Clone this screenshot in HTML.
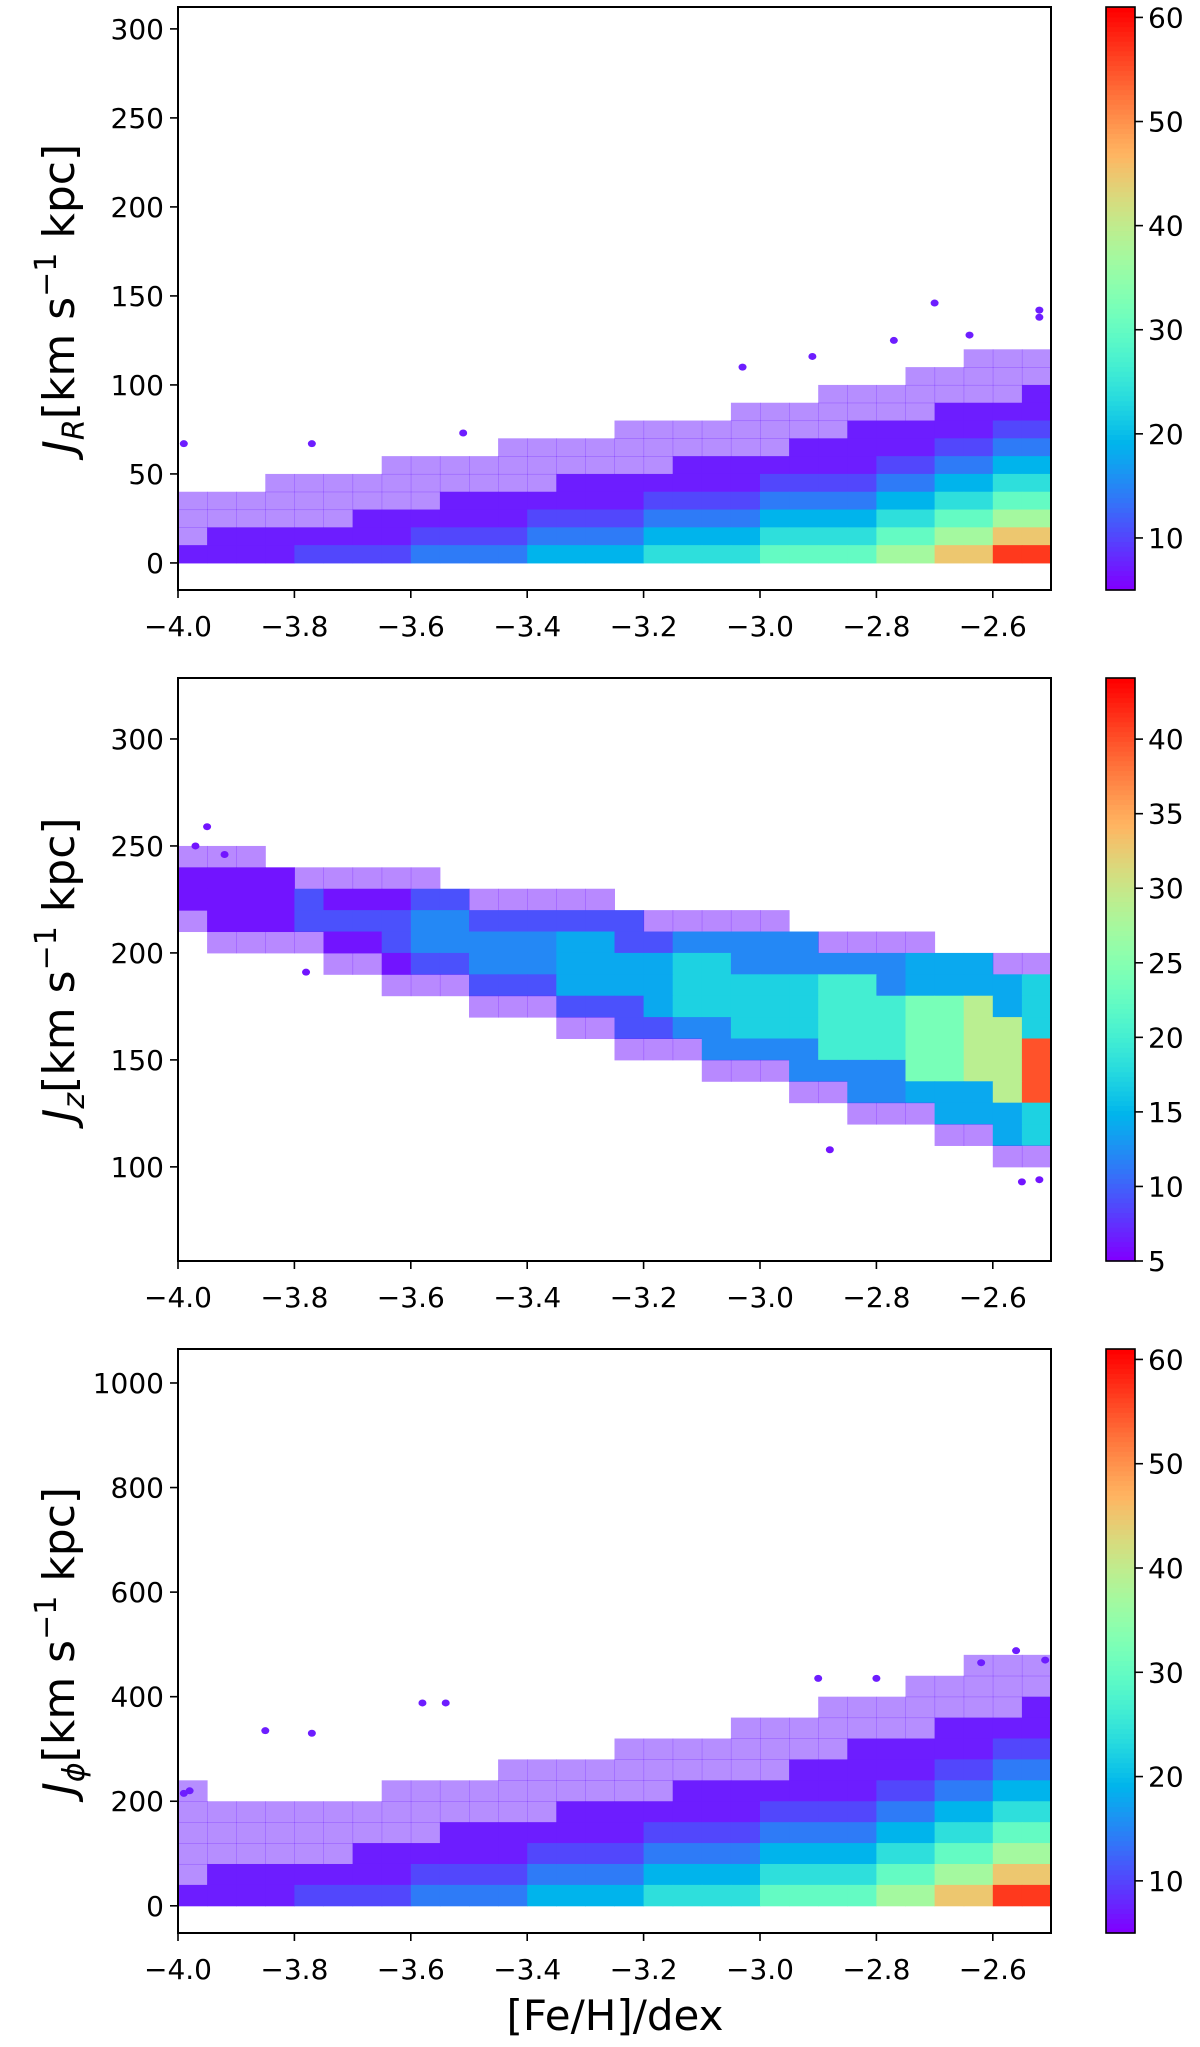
<!DOCTYPE html>
<html><head><meta charset="utf-8">
<style>
html,body{margin:0;padding:0;background:#fff;}
svg{display:block;font-family:"DejaVu Sans","Liberation Sans",sans-serif;}
</style></head>
<body>
<svg id="fig" width="1200" height="2047" viewBox="0 0 1200 2047" xmlns="http://www.w3.org/2000/svg"></svg>
<script>
// ---------- data ----------
const xTicks = [-4.0, -3.8, -3.6, -3.4, -3.2, -3.0, -2.8, -2.6];
const xTickLabels = ["−4.0","−3.8","−3.6","−3.4","−3.2","−3.0","−2.8","−2.6"];

// Panel 1: J_R  (rows top -> bottom, 10 units each from 0, cols 0.05 dex from -4.0)
const p1Levels = [0,7,10,14,19,24,30,37,45,57];
const p1Ticks = [0,50,100,150,200,250,300];
const p1CbTicks = [10,20,30,40,50,60];
const p1Grid = [
"000000000000000000000000000000",
"000000000000000000000000000000",
"000000000000000000000000000000",
"000000000000000000000000000sss",
"0000000000000000000000000sssss",
"0000000000000000000000sssssss1",
"0000000000000000000sssssss1111",
"000000000000000ssssssss1111122",
"00000000000ssssssssss111112233",
"0000000ssssssssss1111111223344",
"000ssssssssss11111112222334455",
"sssssssss111111122223333445566",
"ssssss111111222233334444556677",
"s11111112222333344445555667788",
"111122223333444455556666778899"
];
const p1Outliers = [[-2.70,146],[-2.52,142],[-2.52,138],[-3.99,67],[-2.64,128],[-2.77,125],[-2.91,116],[-3.03,110],[-3.51,73],[-3.77,67]];

// Panel 2: J_z  (rows top -> bottom, 10 units each from 80)
const p2Levels = [0,6,9,12,14,17,20,24,29,40];
const p2Ticks = [100,150,200,250,300];
const p2CbTicks = [5,10,15,20,25,30,35,40];
const p2Grid = [
"000000000000000000000000000000",
"000000000000000000000000000000",
"sss000000000000000000000000000",
"1111sssss000000000000000000000",
"1111211122sssss000000000000000",
"s111222233222222sssss000000000",
"0ssss11233333442233333ssss0000",
"00000ss122333444455333333444ss",
"0000000sss22244445555566344445",
"0000000000sss22245555566677845",
"0000000000000ss223355566677885",
"000000000000000sss333366677889",
"000000000000000000sss333377889",
"000000000000000000000ss3344489",
"00000000000000000000000sss4445",
"00000000000000000000000000ss45",
"0000000000000000000000000000ss",
"000000000000000000000000000000",
"000000000000000000000000000000"
];
const p2Outliers = [[-3.95,259],[-3.97,250],[-3.92,246],[-2.55,93],[-2.52,94],[-2.88,108],[-3.78,191]];

// Panel 3: J_phi  (rows top -> bottom, 40 units each from 0)
const p3Levels = [0,7,10,14,19,24,30,37,45,57];
const p3Ticks = [0,200,400,600,800,1000];
const p3CbTicks = [10,20,30,40,50,60];
const p3Grid = [
"000000000000000000000000000000",
"000000000000000000000000000000",
"000000000000000000000000000000",
"000000000000000000000000000sss",
"0000000000000000000000000sssss",
"0000000000000000000000sssssss1",
"0000000000000000000sssssss1111",
"000000000000000ssssssss1111122",
"00000000000ssssssssss111112233",
"s000000ssssssssss1111111223344",
"sssssssssssss11111112222334455",
"sssssssss111111122223333445566",
"ssssss111111222233334444556677",
"s11111112222333344445555667788",
"111122223333444455556666778899"
];
const p3Outliers = [[-2.56,488],[-2.51,470],[-2.62,465],[-2.90,435],[-2.80,435],[-3.58,388],[-3.54,388],[-3.85,335],[-3.77,330],[-3.98,220],[-3.99,215]];

// ---------- rendering ----------
const NS = "http://www.w3.org/2000/svg";
const svg = document.getElementById("fig");
function el(tag, attrs, parent){
  const e = document.createElementNS(NS, tag);
  for (const k in attrs) e.setAttribute(k, attrs[k]);
  (parent||svg).appendChild(e);
  return e;
}
function cmap(t){
  t = Math.max(0, Math.min(1, t));
  const r = Math.min(1, Math.abs(2*t-0.5)), g = Math.sin(Math.PI*t), b = Math.cos(Math.PI*t/2);
  return "rgb(" + Math.round(r*255) + "," + Math.round(g*255) + "," + Math.round(b*255) + ")";
}
const AX_L = 178, AX_R = 1051, X_MIN = -4.0, X_MAX = -2.5;
const CB_L = 1106, CB_W = 29;
function xs(v){ return AX_L + (v - X_MIN)/(X_MAX - X_MIN)*(AX_R - AX_L); }

function drawPanel(cfg){
  const g = el("g", {});
  
  
  const ys = v => cfg.bot - (v - cfg.yMin)/(cfg.yMax - cfg.yMin)*(cfg.bot - cfg.top);
  const cs = v => (v - cfg.cMin)/(cfg.cMax - cfg.cMin);
  const clipId = cfg.name + "-clip";
  const defs = el("defs", {}, g);
  const cp = el("clipPath", {id: clipId}, defs);
  el("rect", {x: AX_L, y: cfg.top, width: AX_R-AX_L, height: cfg.bot-cfg.top}, cp);
  const cells = el("g", {"clip-path": "url(#"+clipId+")"}, g);
  
  
  const nRows = cfg.grid.length;
  for (let i = 0; i < nRows; i++){
    const row = cfg.grid[i];
    const y0 = cfg.yBase + cfg.rowH*(nRows-1-i);
    for (let c = 0; c < row.length; c++){
      const ch = row[c];
      if (ch === "0") continue;
      const x0 = X_MIN + 0.05*c;
      const lvl = ch === "s" ? cfg.levels[1] : cfg.levels[+ch];
      const r = el("rect", {
        x: xs(x0).toFixed(2), y: ys(y0+cfg.rowH).toFixed(2),
        width: (xs(x0+0.05)-xs(x0)+0.5).toFixed(2), height: (ys(y0)-ys(y0+cfg.rowH)+0.5).toFixed(2),
        fill: cmap(cs(lvl)), "fill-opacity": ch === "s" ? 0.5 : 1
      }, cells);
      
      
    }
  }
  cfg.outliers.forEach(p => {
    const o = el("ellipse", {cx: xs(p[0]), cy: ys(p[1]), rx: 4, ry: 3.5, fill: cmap(cs(cfg.levels[1]))}, cells);
    
    
  });
  const fr = el("rect", {x: AX_L, y: cfg.top, width: AX_R-AX_L, height: cfg.bot-cfg.top, fill: "none", stroke: "#000", "stroke-width": 2}, g);
  
  
  xTicks.forEach((v, k) => {
    el("line", {x1: xs(v), x2: xs(v), y1: cfg.bot, y2: cfg.bot+8, stroke: "#000", "stroke-width": 1.6}, g);
    const t = el("text", {x: xs(v), y: cfg.bot+46, "font-size": 28, "text-anchor": "middle"}, g);
    t.textContent = xTickLabels[k];
    
    
  });
  cfg.yTicks.forEach(v => {
    el("line", {x1: AX_L-8, x2: AX_L, y1: ys(v), y2: ys(v), stroke: "#000", "stroke-width": 1.6}, g);
    const t = el("text", {x: AX_L-14, y: ys(v)+10, "font-size": 28, "text-anchor": "end"}, g);
    t.textContent = String(v);
    
    
  });
  const yl = el("text", {transform: "translate(" + 74 + "," + ((cfg.top+cfg.bot)/2) + ") rotate(-90)", "font-size": 44, "text-anchor": "middle"}, g);
  
  
  yl.innerHTML = '<tspan font-style="italic">J</tspan><tspan font-size="30" font-style="italic" dy="10">' + cfg.sub + '</tspan><tspan dy="-10">[km s</tspan><tspan font-size="30" dy="-18">−1</tspan><tspan dy="18"> kpc]</tspan>';
  const cb = el("g", {}, g);
  
  
  const nSteps = 120;
  for (let s = 0; s < nSteps; s++){
    const h = (cfg.bot-cfg.top)/nSteps;
    el("rect", {x: CB_L, y: cfg.bot - (s+1)*h, width: CB_W, height: h+0.6, fill: cmap(s/(nSteps-1))}, cb);
  }
  el("rect", {x: CB_L, y: cfg.top, width: CB_W, height: cfg.bot-cfg.top, fill: "none", stroke: "#000", "stroke-width": 1.6}, cb);
  const cy = v => cfg.bot - (v - cfg.cMin)/(cfg.cMax - cfg.cMin)*(cfg.bot - cfg.top);
  cfg.cbTicks.forEach(v => {
    el("line", {x1: CB_L+CB_W, x2: CB_L+CB_W+8, y1: cy(v), y2: cy(v), stroke: "#000", "stroke-width": 1.6}, cb);
    const t = el("text", {x: CB_L+CB_W+13, y: cy(v)+10, "font-size": 28}, cb);
    t.textContent = String(v);
    
    
  });
}

drawPanel({name: "jr-panel", top: 7, bot: 590, yMin: -15.2, yMax: 312.3, cMin: 5, cMax: 61,
  grid: p1Grid, levels: p1Levels, yBase: 0, rowH: 10, yTicks: p1Ticks, cbTicks: p1CbTicks, outliers: p1Outliers, sub: "R"});
drawPanel({name: "jz-panel", top: 678, bot: 1261, yMin: 56, yMax: 328.5, cMin: 5, cMax: 44.1,
  grid: p2Grid, levels: p2Levels, yBase: 80, rowH: 10, yTicks: p2Ticks, cbTicks: p2CbTicks, outliers: p2Outliers, sub: "z"});
drawPanel({name: "jphi-panel", top: 1349, bot: 1933, yMin: -52, yMax: 1065, cMin: 5, cMax: 61,
  grid: p3Grid, levels: p3Levels, yBase: 0, rowH: 40, yTicks: p3Ticks, cbTicks: p3CbTicks, outliers: p3Outliers, sub: "ϕ"});

const xl = el("text", {x: 615, y: 2030, "font-size": 42, "text-anchor": "middle"});
xl.textContent = "[Fe/H]/dex";


</script>
</body></html>
